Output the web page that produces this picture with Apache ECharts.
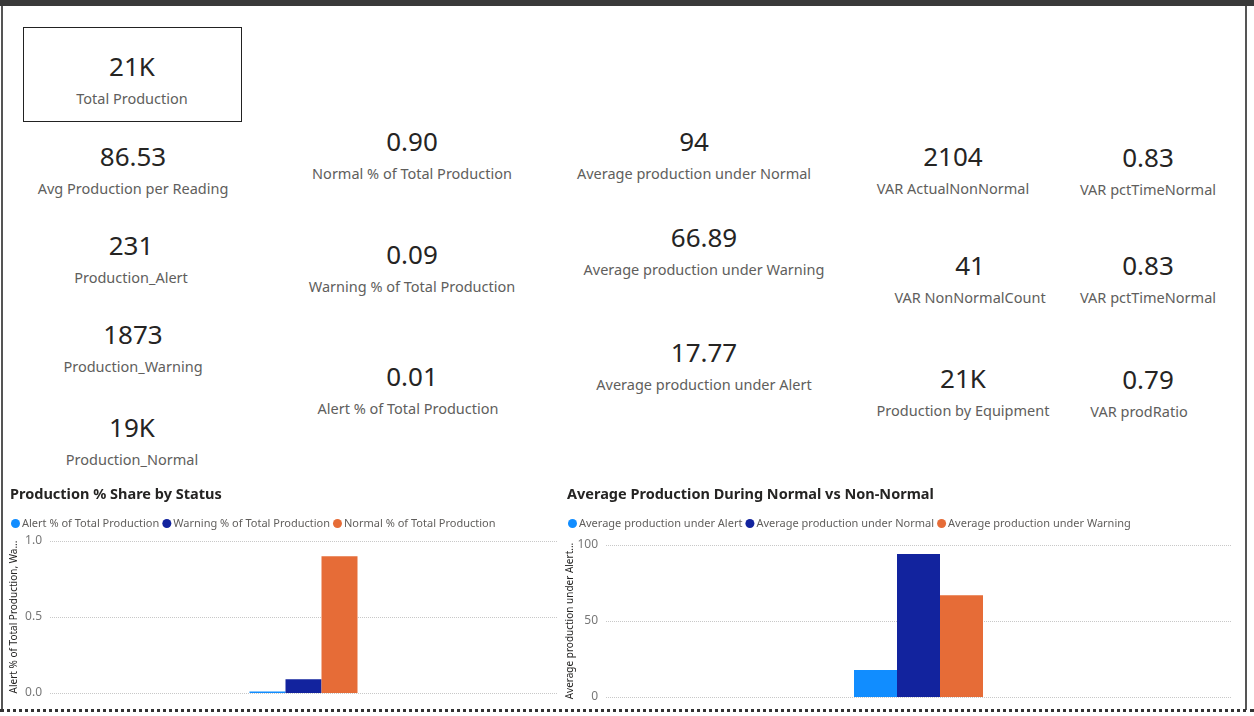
<!DOCTYPE html>
<html>
<head>
<meta charset="utf-8">
<script src="https://cdn.jsdelivr.net/npm/echarts@6/dist/echarts.min.js"></script>
<style>
body { margin:0; background:#fff; font-family:"Noto Sans", Roboto, sans-serif; }
#page { position:relative; width:1254px; height:716px; overflow:hidden; background:#fff; }
.topbar { position:absolute; left:0; top:0; width:1254px; height:6px; background:#3a3a3a; }
.lline { position:absolute; left:1px; top:6px; width:2px; height:704px; background:#555; }
.rline { position:absolute; left:1245px; top:6px; width:2px; height:704px; background:#555; }
.bline { position:absolute; left:0; top:709px; width:1254px; border-top:3px dotted #333; }
.box { position:absolute; left:23px; top:27px; width:217px; height:93px; border:1px solid #222; }
.val { position:absolute; transform:translate(-50%,-50%); font-size:26px; color:#252423; white-space:nowrap; }
.lab { position:absolute; transform:translate(-50%,-50%); font-size:14.5px; color:#605e5c; white-space:nowrap; }
.chart { position:absolute; }
</style>
</head>
<body>
<div id="page">
  <div class="topbar"></div><div class="lline"></div><div class="rline"></div><div class="bline"></div>
  <div class="box"></div>
  <div id="cards"></div>
  <div id="chart1" class="chart" style="left:3px;top:478px;width:555px;height:230px"></div>
  <div id="chart2" class="chart" style="left:560px;top:478px;width:685px;height:230px"></div>
</div>
<script>
// card values and labels
var cardValues = ['21K','86.53','231','1873','19K','0.90','0.09','0.01','94','66.89','17.77','2104','41','21K','0.83','0.83','0.79'];
var cardLabels = ['Total Production','Avg Production per Reading','Production_Alert','Production_Warning','Production_Normal',
  'Normal % of Total Production','Warning % of Total Production','Alert % of Total Production',
  'Average production under Normal','Average production under Warning','Average production under Alert',
  'VAR ActualNonNormal','VAR NonNormalCount','Production by Equipment','VAR pctTimeNormal','VAR pctTimeNormal','VAR prodRatio'];
var cardPos = [[132,66],[133,156],[131,245],[133,334],[132,427],[412,141],[412,254],[412,376],[694,141],[704,237],[704,352],
  [953,156],[970,265],[963,378],[1148,157],[1148,265],[1148,379]];
var labelX = [132,133,131,133,132,412,412,408,694,704,704,953,970,963,1148,1148,1139];

var html = '';
for (var i = 0; i < cardValues.length; i++) {
  html += '<div class="val" style="left:' + cardPos[i][0] + 'px;top:' + cardPos[i][1] + 'px">' + cardValues[i] + '</div>';
  html += '<div class="lab" style="left:' + labelX[i] + 'px;top:' + (cardPos[i][1] + 32) + 'px">' + cardLabels[i] + '</div>';
}
document.getElementById('cards').innerHTML = html;

// chart data
var shareNames = ['Alert % of Total Production','Warning % of Total Production','Normal % of Total Production'];
var shareValues = [0.01, 0.09, 0.90];
var avgNames = ['Average production under Alert','Average production under Normal','Average production under Warning'];
var avgValues = [17.77, 94, 66.89];
var colors = ['#118DFF','#12239E','#E66C37'];

function makeOption(title, names, values, yName, max, interval, grid, nameX, barW, fmt) {
  var series = [];
  for (var i = 0; i < names.length; i++) {
    series.push({ name:names[i], type:'bar', data:[values[i]], barWidth:barW, barGap:'0%',
      itemStyle:{ color:colors[i] } });
  }
  return {
    animation:false,
    textStyle:{ fontFamily:'Noto Sans' },
    title:{ text:title, left:2, top:4, textStyle:{ fontSize:14.5, fontWeight:'bold', color:'#252423' } },
    legend:{ left:3, top:35, itemWidth:9, itemHeight:9, itemGap:3, icon:'circle',
      textStyle:{ fontSize:11, color:'#605e5c', padding:[0,0,0,-3] }, data:names },
    grid:{ left:grid[0], right:grid[1], top:grid[2], bottom:grid[3], outerBoundsMode:'none' },
    // rotated y axis title
    graphic:[{ type:'text', x:nameX, y:(230 - grid[3] + grid[2]) / 2, rotation:Math.PI / 2,
      style:{ text:yName, fontSize:10, fill:'#252423', fontFamily:'Noto Sans', align:'center', verticalAlign:'middle' } }],
    xAxis:{ type:'category', data:[''], axisLine:{show:false}, axisTick:{show:false}, axisLabel:{show:false} },
    yAxis:{ type:'value', min:0, max:max, interval:interval,
      axisLabel:{ color:'#777', fontSize:12, formatter:fmt },
      splitLine:{ lineStyle:{ type:'dotted', color:'#c8c8c8' } } },
    series:series
  };
}

var c1 = echarts.init(document.getElementById('chart1'));
c1.setOption(makeOption('Production % Share by Status', shareNames, shareValues,
  'Alert % of Total Production, Wa...', 1, 0.5, [47, 1, 63, 15], 11, 36, function(v){ return v.toFixed(1); }));

var c2 = echarts.init(document.getElementById('chart2'));
c2.setOption(makeOption('Average Production During Normal vs Non-Normal', avgNames, avgValues,
  'Average production under Alert...', 100, 50, [46, 14, 67, 11], 10, 43, null));
</script>
</body>
</html>
